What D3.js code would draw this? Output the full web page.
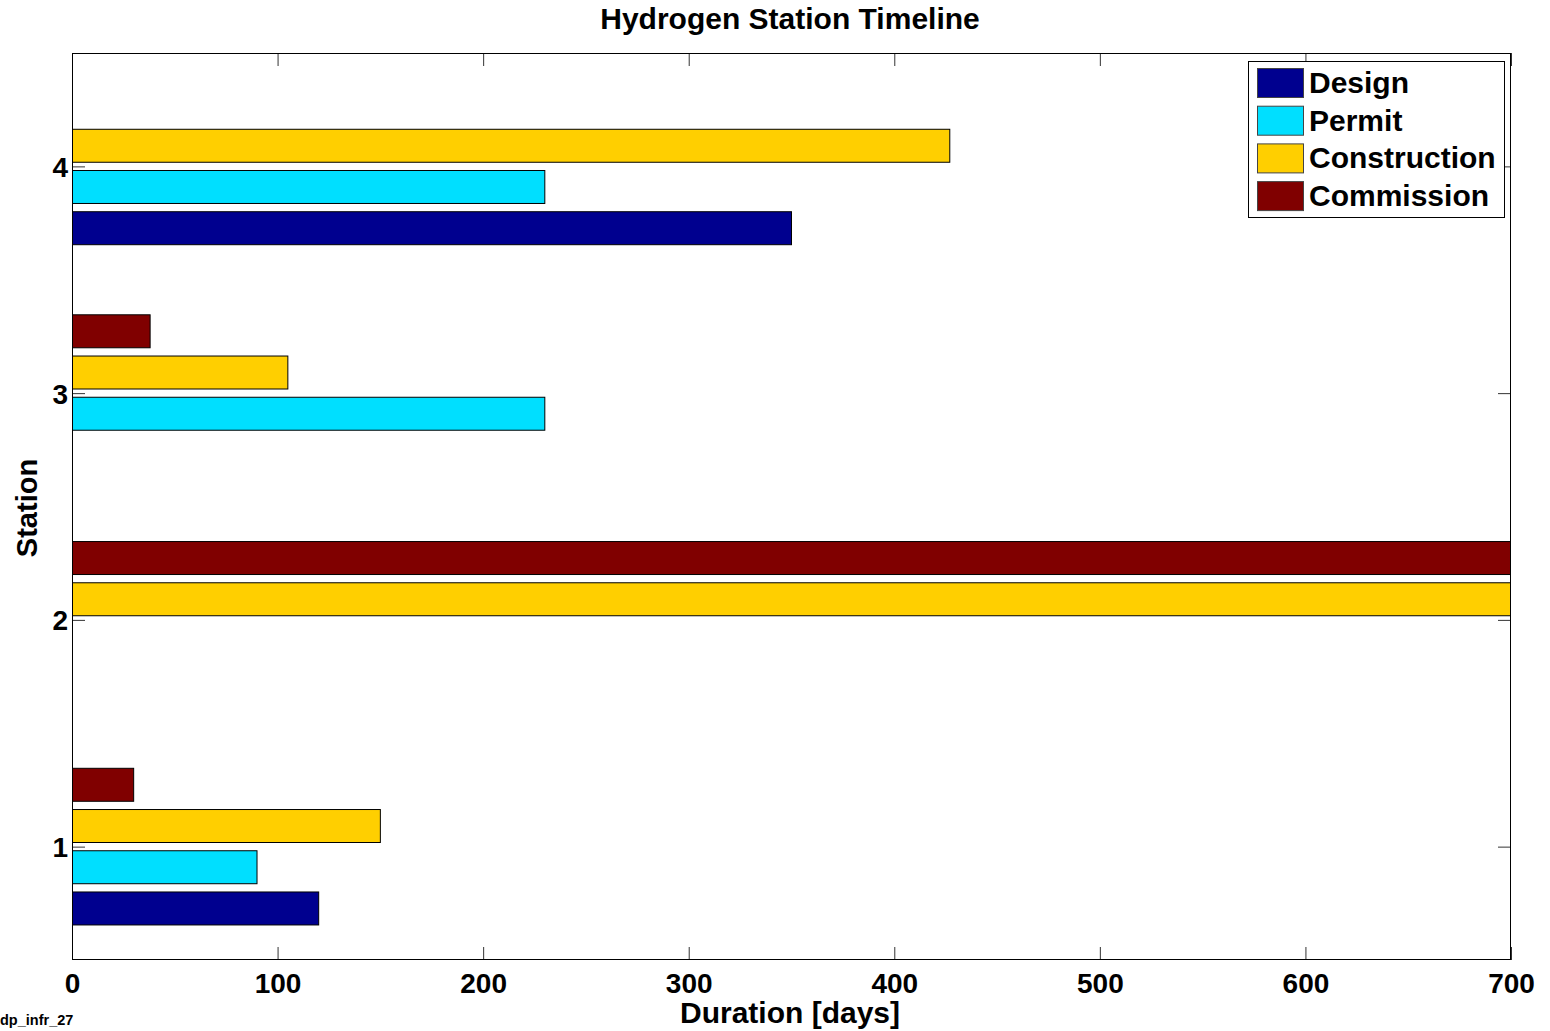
<!DOCTYPE html>
<html>
<head>
<meta charset="utf-8">
<script src="https://cdn.jsdelivr.net/npm/d3@7"></script>
<style>
  html, body { margin: 0; padding: 0; background: #fff; }
  svg { display: block; }
  text { font-family: "Liberation Sans", Arial, sans-serif; font-weight: bold; fill: #000; }
</style>
</head>
<body>
<svg id="chart" width="1550" height="1031"></svg>
<script>
// Stations and project phases
const stations = [1, 2, 3, 4];
const phases = ["Design", "Permit", "Construction", "Commission"];
const phaseColors = ["#00008f", "#00dfff", "#ffcf00", "#800000"];

// Duration of each phase per station, in days (station 2 runs past the axis limit)
const designDays       = [120,   0,   0, 350];
const permitDays       = [ 90,   0, 230, 230];
const constructionDays = [150, 780, 105, 427];
const commissionDays   = [ 30, 760,  38,   0];
const seriesValues = [designDays, permitDays, constructionDays, commissionDays];

const xTicks = [0, 100, 200, 300, 400, 500, 600, 700];
const yTicks = [1, 2, 3, 4];

const svg = d3.select("#chart");
const plotLeft = 72, plotRight = 1511, plotTop = 53, plotBottom = 960;

const x = d3.scaleLinear().domain([0, 700]).range([plotLeft, plotRight]);
const y = d3.scaleLinear().domain([0.5, 4.5]).range([plotBottom, plotTop]);

// Grouped horizontal bars: group width 4/5.5, each bar 80% of its slot
const slot = Math.min(0.8, phases.length / (phases.length + 1.5)) / phases.length;
const barH = slot * 0.8;

svg.append("defs").append("clipPath").attr("id", "plotClip")
  .append("rect").attr("x", plotLeft).attr("y", plotTop)
  .attr("width", plotRight - plotLeft).attr("height", plotBottom - plotTop);

const bars = [];
phases.forEach((p, i) => {
  stations.forEach((s, j) => {
    const v = seriesValues[i][j];
    if (v > 0) bars.push({ phase: i, station: s, value: v });
  });
});

svg.append("g").attr("clip-path", "url(#plotClip)")
  .selectAll("rect").data(bars).join("rect")
  .attr("x", x(0))
  .attr("y", d => y(d.station + (d.phase - (phases.length - 1) / 2) * slot + barH / 2))
  .attr("width", d => x(d.value) - x(0))
  .attr("height", d => y(0) - y(barH))
  .attr("fill", d => phaseColors[d.phase])
  .attr("stroke", "#000")
  .attr("stroke-width", 1);

// Axes on all four sides, ticks pointing inward
const tickLen = 13;
const xBottom = d3.axisBottom(x).tickValues(xTicks).tickSizeInner(-tickLen).tickSizeOuter(0).tickPadding(13).tickFormat(d3.format("d"));
const xTop = d3.axisTop(x).tickValues(xTicks).tickSizeInner(-tickLen).tickSizeOuter(0).tickFormat("");
const yLeft = d3.axisLeft(y).tickValues(yTicks).tickSizeInner(-tickLen).tickSizeOuter(0).tickPadding(4).tickFormat(d3.format("d"));
const yRight = d3.axisRight(y).tickValues(yTicks).tickSizeInner(-tickLen).tickSizeOuter(0).tickFormat("");

function style(g) {
  g.select(".domain").remove();
  g.selectAll(".tick line").attr("stroke", "#333").attr("stroke-width", 1);
  g.selectAll(".tick text").style("font-size", "28px").style("font-family", "'Liberation Sans', Arial, sans-serif").style("font-weight", "bold").attr("fill", "#000");
}

svg.append("g").attr("transform", `translate(0,${plotBottom})`).call(xBottom).call(style);
svg.append("g").attr("transform", `translate(0,${plotTop})`).call(xTop).call(style);
svg.append("g").attr("transform", `translate(${plotLeft},0)`).call(yLeft).call(style)
  .selectAll(".tick text").attr("dy", "0.36em");
svg.append("g").attr("transform", `translate(${plotRight},0)`).call(yRight).call(style);

// Plot frame
svg.append("rect").attr("x", plotLeft + 0.5).attr("y", plotTop + 0.5)
  .attr("width", plotRight - plotLeft - 1).attr("height", plotBottom - plotTop - 1)
  .attr("fill", "none").attr("stroke", "#000").attr("stroke-width", 1);

// Titles
svg.append("text").attr("x", 790).attr("y", 29).attr("text-anchor", "middle")
  .style("font-size", "30px").text("Hydrogen Station Timeline");
svg.append("text").attr("x", 790).attr("y", 1023).attr("text-anchor", "middle")
  .style("font-size", "30px").text("Duration [days]");
svg.append("text").attr("transform", "translate(37,508) rotate(-90)").attr("text-anchor", "middle")
  .style("font-size", "29px").text("Station");
svg.append("text").attr("x", 0).attr("y", 1025).style("font-size", "14.5px").text("dp_infr_27");

// Legend
const lg = svg.append("g");
lg.append("rect").attr("x", 1248.5).attr("y", 61.5).attr("width", 256).attr("height", 156)
  .attr("fill", "#fff").attr("stroke", "#000").attr("stroke-width", 1);
phases.forEach((p, i) => {
  const yy = 68 + i * 37.7;
  lg.append("rect").attr("x", 1257.5).attr("y", yy + 0.5).attr("width", 46).attr("height", 29)
    .attr("fill", phaseColors[i]).attr("stroke", "#444").attr("stroke-width", 1);
  lg.append("text").attr("x", 1309).attr("y", yy + 25).style("font-size", "30px").text(p);
});
</script>
</body>
</html>
